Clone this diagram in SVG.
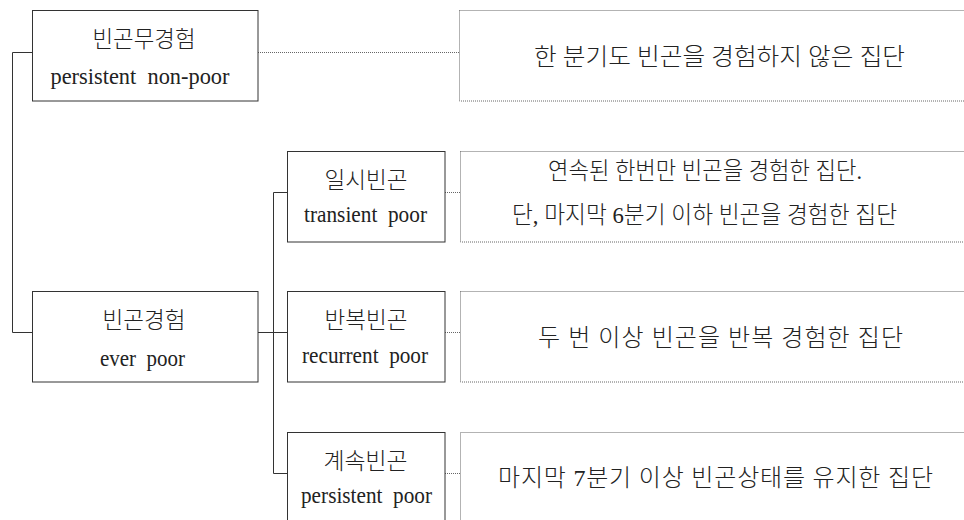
<svg xmlns="http://www.w3.org/2000/svg" width="964" height="520" viewBox="0 0 964 520">
<style>
.box{fill:#fff;stroke:#333;stroke-width:1}
.dbox{fill:#fff;stroke:#666;stroke-width:1;stroke-dasharray:1 1}
.con{fill:none;stroke:#333;stroke-width:1}
.dcon{fill:none;stroke:#666;stroke-width:1;stroke-dasharray:1 1}
.ko{font-family:'Noto Sans CJK KR',sans-serif;font-weight:300;font-size:23px;fill:#222;text-anchor:middle}
.en{font-family:'Liberation Serif','DejaVu Serif',serif;font-size:24px;fill:#222;text-anchor:middle;white-space:pre}
.desc{font-family:'Liberation Serif','Noto Sans CJK KR',serif;font-weight:300;font-size:24px;fill:#222;text-anchor:middle}
</style>
<rect width="964" height="520" fill="#fff"/>
<g id="connectors">
<polyline class="con" points="32.5,52.5 12.5,52.5 12.5,332.5 32.5,332.5"/>
<line class="con" x1="258" y1="332.5" x2="287" y2="332.5"/>
<polyline class="con" points="287.5,192.5 273.5,192.5 273.5,473.5 287.5,473.5"/>
<line class="dcon" x1="258" y1="52.5" x2="459" y2="52.5"/>
<line class="dcon" x1="445" y1="192.5" x2="460" y2="192.5"/>
<line class="dcon" x1="445" y1="332.5" x2="460" y2="332.5"/>
<line class="dcon" x1="445" y1="473.5" x2="460" y2="473.5"/>
</g>
<g id="n-nonpoor">
<rect class="box" x="32.5" y="10.5" width="225.5" height="90.5"/>
<text class="ko" x="144" y="47" textLength="103" lengthAdjust="spacingAndGlyphs">빈곤무경험</text>
<text class="en" x="140" y="84" textLength="179" lengthAdjust="spacingAndGlyphs">persistent  non-poor</text>
</g>
<g id="d-nonpoor">
<rect class="dbox" x="459.5" y="10.5" width="520" height="90.5"/>
<text class="desc" x="719.5" y="65" textLength="371" lengthAdjust="spacingAndGlyphs">한 분기도 빈곤을 경험하지 않은 집단</text>
</g>
<g id="n-ever">
<rect class="box" x="32.5" y="291.5" width="225.5" height="90.5"/>
<text class="ko" x="144" y="328" textLength="83" lengthAdjust="spacingAndGlyphs">빈곤경험</text>
<text class="en" x="142.5" y="366" textLength="85" lengthAdjust="spacingAndGlyphs">ever  poor</text>
</g>
<g id="n-transient">
<rect class="box" x="287.5" y="151.5" width="157.5" height="90.5"/>
<text class="ko" x="366" y="188" textLength="83" lengthAdjust="spacingAndGlyphs">일시빈곤</text>
<text class="en" x="365.5" y="222" textLength="123" lengthAdjust="spacingAndGlyphs">transient  poor</text>
</g>
<g id="d-transient">
<rect class="dbox" x="460.5" y="151.5" width="520" height="90.5"/>
<text class="desc" x="705" y="179" textLength="314" lengthAdjust="spacingAndGlyphs">연속된 한번만 빈곤을 경험한 집단.</text>
<text class="desc" x="704.5" y="223" textLength="385" lengthAdjust="spacingAndGlyphs">단, 마지막 6분기 이하 빈곤을 경험한 집단</text>
</g>
<g id="n-recurrent">
<rect class="box" x="287.5" y="291.5" width="157.5" height="90.5"/>
<text class="ko" x="366" y="328" textLength="83" lengthAdjust="spacingAndGlyphs">반복빈곤</text>
<text class="en" x="365" y="363" textLength="126" lengthAdjust="spacingAndGlyphs">recurrent  poor</text>
</g>
<g id="d-recurrent">
<rect class="dbox" x="460.5" y="291.5" width="520" height="90.5"/>
<text class="desc" x="720.5" y="346" textLength="365" lengthAdjust="spacing">두 번 이상 빈곤을 반복 경험한 집단</text>
</g>
<g id="n-persistent">
<rect class="box" x="287.5" y="432.5" width="157.5" height="100"/>
<text class="ko" x="365.5" y="469" textLength="84" lengthAdjust="spacingAndGlyphs">계속빈곤</text>
<text class="en" x="366.5" y="503" textLength="131" lengthAdjust="spacingAndGlyphs">persistent  poor</text>
</g>
<g id="d-persistent">
<rect class="dbox" x="460.5" y="432.5" width="520" height="100"/>
<text class="desc" x="715.5" y="486" textLength="435" lengthAdjust="spacing">마지막 7분기 이상 빈곤상태를 유지한 집단</text>
</g>
</svg>
